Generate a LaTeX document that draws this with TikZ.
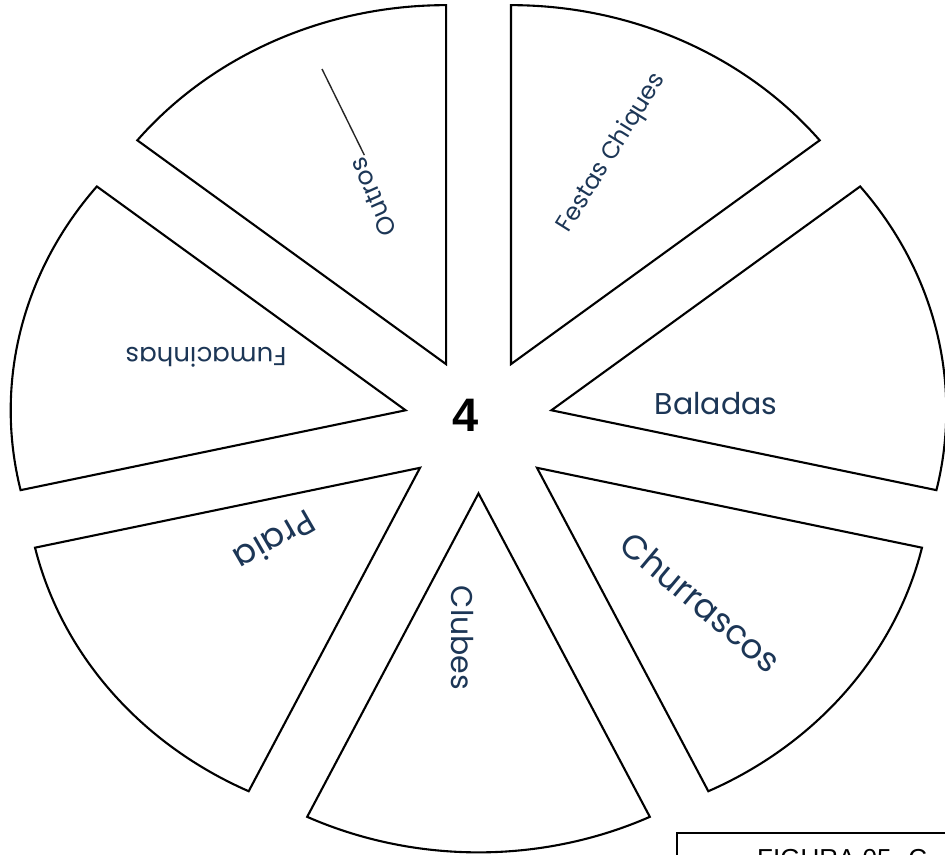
\documentclass[tikz,border=0pt]{standalone}
\usepackage{fontspec}
\usepackage{xcolor}
\usetikzlibrary{calc}
\setmainfont{Liberation Sans}
\newfontfamily\gothic{Poppins}
\definecolor{wordblue}{HTML}{1C3656}
\newcommand{\gsize}[1]{\gothic\fontsize{#1}{#1}\selectfont}

\begin{document}
\begin{tikzpicture}[x=1pt, y=-1pt,
  slice/.style={draw=black, line width=2.1pt, fill=white},
  slicetext/.style={text=wordblue, inner sep=0pt},
  figbox/.style={draw=black, line width=1.5pt, fill=white}
]
  \useasboundingbox (0,0) rectangle (945,854);
  \clip (0,0) rectangle (945,854);

  % exploded pie, seven equal slices
  \begin{scope}[shift={(478.5,425.4)}, xscale=1.1, yscale=-1]
    \foreach \k in {0,...,6}{
      \pgfmathsetmacro\b{12.857+\k*51.4286}
      \draw[slice] (\b:68) -- ++(\b-25.714:359)
        arc[start angle=\b-25.714, end angle=\b+25.714, radius=359] -- cycle;
    }
  \end{scope}

  \node[slicetext, font=\gsize{30}] (baladas) at (716,404) {Baladas};
  \node[slicetext, font=\gsize{34}, rotate=-40] (churrascos) at (701,602) {Churrascos};
  \node[slicetext, font=\gsize{30}, rotate=-90] (clubes) at (462,638) {Clubes};
  \node[slicetext, font=\gsize{34}, rotate=210] (praia) at (275,541) {Praia};
  \node[slicetext, font=\gsize{26}, rotate=180] (fumacinhas) at (206,357) {Fumacinhas};
  \node[slicetext, font=\gsize{25}, rotate=114] (outros) at (373,197) {Outros};
  \node[slicetext, font=\gsize{24}, rotate=58] (festas) at (612,153) {Festas Chiques};
  \node[font=\bfseries\fontsize{47}{47}\selectfont, inner sep=0pt] (total) at (466,415) {4};

  \coordinate (outtail) at (322,69);
  \draw[line width=1.4pt, black!85] (outros.south east) -- (outtail);

  % caption box, cut by the page edge
  \draw[figbox] (677,833) rectangle (990,900);
  \node[anchor=base west, font=\fontsize{26}{26}\selectfont, inner sep=0pt] (figcap) at (757,867) {FIGURA 05. C};
\end{tikzpicture}
\end{document}
